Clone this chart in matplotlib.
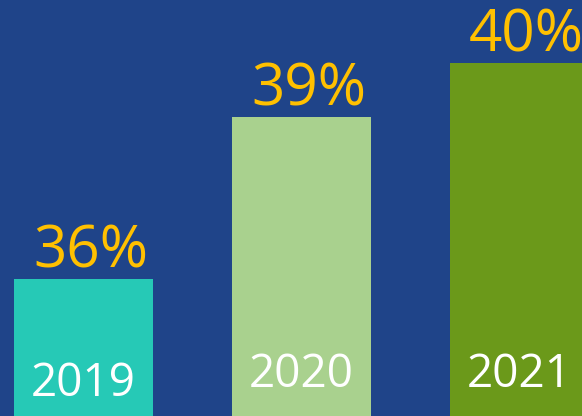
import matplotlib
matplotlib.use("Agg")
import matplotlib.pyplot as plt
from matplotlib import transforms

years = ["2019", "2020", "2021"]
values = [36, 39, 40]
pct_labels = ["36%", "39%", "40%"]

bg = "#1F4489"
bar_colors = ["#26C9B6", "#A9D18E", "#6B991A"]
gold = "#FFC000"

fig = plt.figure(figsize=(5.82, 4.16), dpi=100)
fig.patch.set_facecolor(bg)
ax = fig.add_axes([0, 0, 1, 1])
ax.set_facecolor(bg)

x = list(range(len(years)))
ax.bar(x, values, width=0.638, color=bar_colors, bottom=0)
ax.set_xlim(-0.383, 2.287)
ax.set_ylim(33.463, 41.167)
ax.axis("off")

year_dy = [-9, 0, 0]  # pixel offsets for year label baselines
for xi, v, lab in zip(x, values, pct_labels):
    ax.annotate(lab, (xi, v), xytext=(5, 8.2), textcoords="offset points",
                ha="center", va="baseline", color=gold,
                fontsize=42, family="Open Sans")

for xi, yr, dy in zip(x, years, year_dy):
    trans = transforms.blended_transform_factory(ax.transData, ax.transAxes)
    ax.annotate(yr, (xi, 1 - 387 / 416), xycoords=trans,
                xytext=(0, dy * 0.72), textcoords="offset points",
                ha="center", va="baseline", color="white",
                fontsize=33, family="Open Sans")

fig.savefig("out.png", dpi=100, facecolor=bg)
